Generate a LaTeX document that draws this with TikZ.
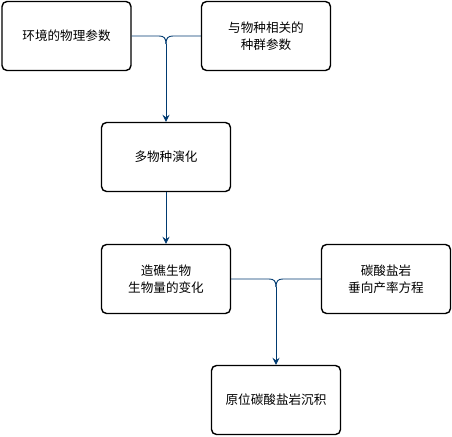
\documentclass[tikz,border=0pt]{standalone}
\usepackage{fontspec}
\newfontfamily\cjk{Noto Sans CJK SC}
\usetikzlibrary{arrows.meta}
\definecolor{conn}{RGB}{0,58,112}
\begin{document}
\begin{tikzpicture}[x=1pt,y=-1pt,
  box/.style={draw=black,line width=1.4pt,rounded corners=5pt,minimum width=129pt,minimum height=69pt,inner sep=0pt,font=\cjk\fontsize{12.6}{17}\selectfont,align=center},
  link/.style={draw=conn,line width=0.9pt},
  arr/.style={link,-{Stealth[length=7pt,width=7pt,inset=2.5pt]}}]
\useasboundingbox (0,0) rectangle (452,436);
\node[box] (env) at (66.5,36) {环境的物理参数};
\node[box] (pop) at (266,36) {与物种相关的\\种群参数};
\node[box] (evo) at (166,157) {多物种演化};
\node[box] (bio) at (166,279) {造礁生物\\生物量的变化};
\node[box] (car) at (386,279) {碳酸盐岩\\垂向产率方程};
\node[box] (dep) at (276,400) {原位碳酸盐岩沉积};
\coordinate (j1) at (166,44);
\coordinate (j2) at (276,287);
\draw[link] (env.east) -- (159,36) .. controls (164,36) and (166,38) .. (j1);
\draw[link] (pop.west) -- (173,36) .. controls (168,36) and (166,38) .. (j1);
\draw[arr] (j1) -- (evo.north);
\draw[arr] (evo.south) -- (bio.north);
\draw[link] (bio.east) -- (269,279) .. controls (274,279) and (276,281) .. (j2);
\draw[link] (car.west) -- (283,279) .. controls (278,279) and (276,281) .. (j2);
\draw[arr] (j2) -- (dep.north);
\end{tikzpicture}
\end{document}
